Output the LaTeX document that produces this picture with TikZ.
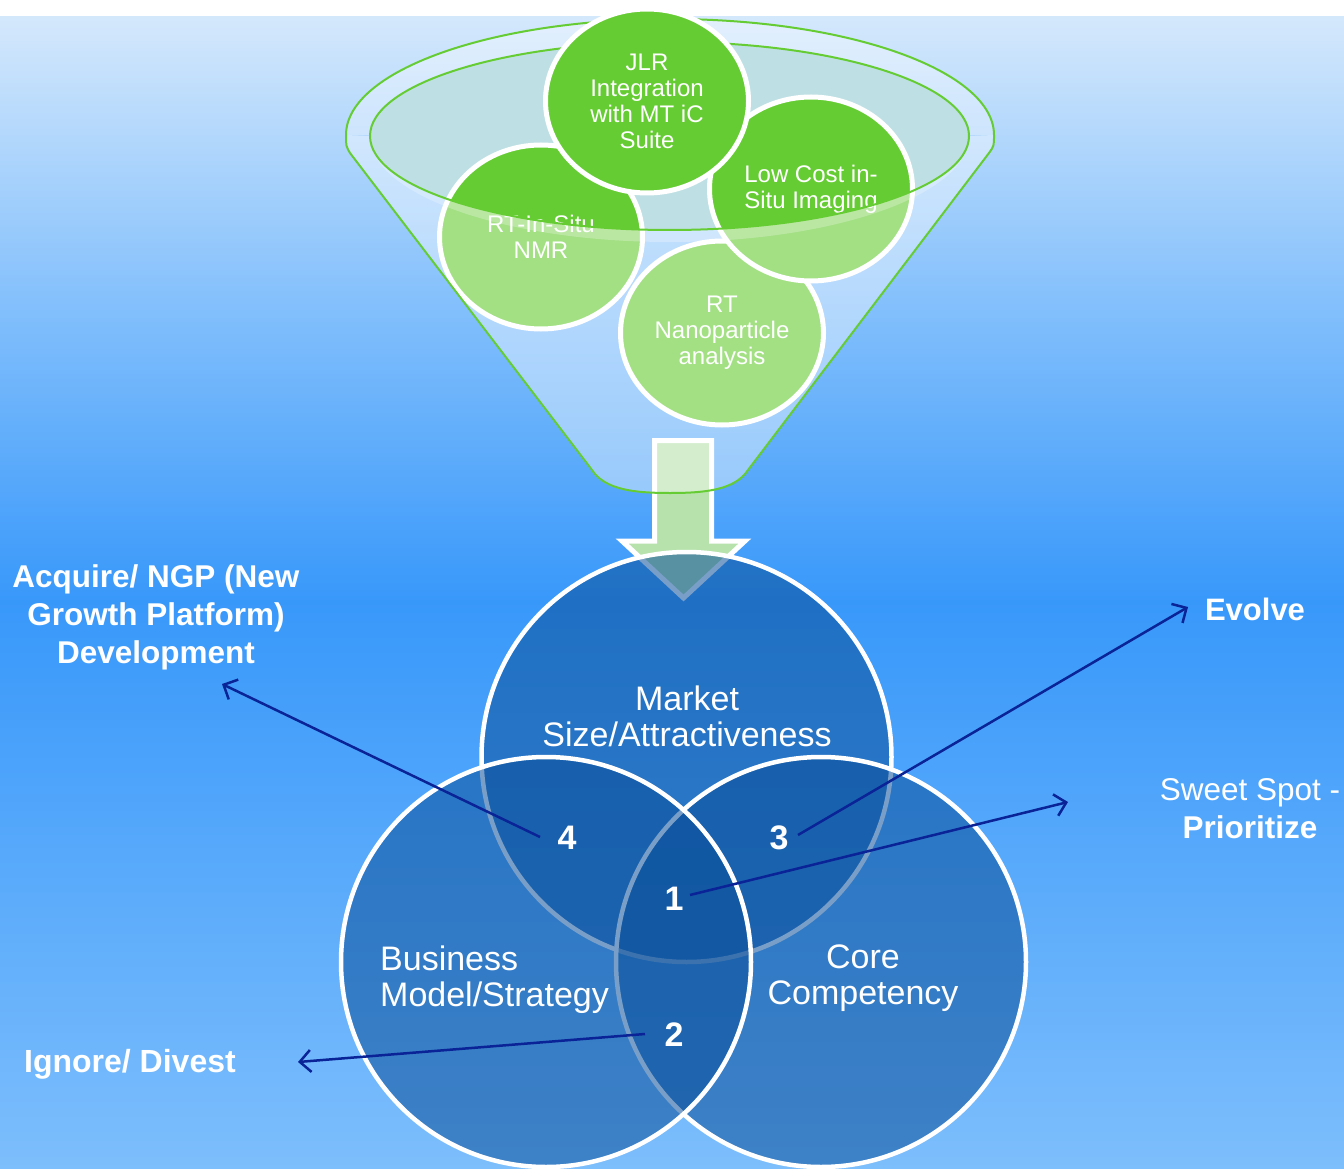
\documentclass[tikz,border=0pt]{standalone}
\usepackage{fontspec}
\setmainfont{Liberation Sans}
\usetikzlibrary{arrows.meta,shapes.geometric}

\definecolor{bgA}{RGB}{212,232,252}
\definecolor{bgB}{RGB}{132,192,252}
\definecolor{bgC}{RGB}{56,152,250}
\definecolor{bgD}{RGB}{125,190,252}
\definecolor{fgreen}{RGB}{102,204,51}
\definecolor{rimteal}{RGB}{190,224,228}
\definecolor{agreen}{RGB}{183,226,172}
\definecolor{vblue}{RGB}{11,80,155}
\definecolor{navy}{RGB}{10,35,150}

\begin{document}
\begin{tikzpicture}[x=1pt,y=-1pt,
  gline/.style={draw=fgreen, line width=2pt},
  gball/.style={ellipse, draw=white, line width=5pt, fill=fgreen,
    minimum width=203pt, minimum height=184pt, inner sep=0pt,
    text=white, align=center, font=\fontsize{24}{26}\selectfont},
  venn/.style={draw=white, line width=4.5pt, fill=vblue, fill opacity=0.55},
  vtext/.style={text=white, font=\fontsize{34}{36}\selectfont, inner sep=0pt},
  num/.style={text=white, font=\bfseries\fontsize{34}{36}\selectfont, inner sep=0pt},
  lbl/.style={text=white, font=\bfseries\fontsize{31.5}{38}\selectfont, align=center, inner sep=0pt},
  conn/.style={draw=navy, line width=2.5pt,
    -{Straight Barb[length=11pt,width=22pt,line width=2.5pt]}}
]
\useasboundingbox (0,0) rectangle (1344,1169);

% background
\fill[white] (0,0) rectangle (1344,18);
\shade[top color=bgA, bottom color=bgB] (0,17) rectangle (1344,301);
\shade[top color=bgB, bottom color=bgC] (0,300) rectangle (1344,601);
\shade[top color=bgC, bottom color=bgD] (0,600) rectangle (1344,1169);

% funnel: back rim and opening
\fill[white, fill opacity=0.35]
  (994,135) arc[start angle=0, end angle=-180, x radius=324, y radius=116] -- cycle;
\fill[rimteal] (669.5,136) ellipse[x radius=299.5, y radius=94];
\draw[gline] (994,135) arc[start angle=0, end angle=-180, x radius=324, y radius=116];
\draw[gline] (969,136) arc[start angle=0, end angle=-180, x radius=299.5, y radius=94];

% block arrow from the funnel down to the circles
\draw[white, line width=5pt, fill=agreen, line join=miter]
  (654.5,440.5) -- (711.5,440.5) -- (711.5,541) -- (745,541) -- (683.5,598)
  -- (622,541) -- (654.5,541) -- cycle;

% ideas inside the funnel
\node[gball] (nano) at (722,333) {RT\\Nanoparticle\\analysis};
\node[gball] (nmr)  at (541,237) {RT-In-Situ\\NMR};
\node[gball] (img)  at (811,189) {Low Cost in-\\Situ Imaging};
\node[gball] (jlr)  at (647,101) {JLR\\Integration\\with MT iC\\Suite};

% funnel: translucent front body
\fill[white, fill opacity=0.4]
  (370,136) arc[start angle=180, end angle=0, x radius=299.5, y radius=94]
  -- (994,135) .. controls (994,146) .. (989,153)
  -- (748,470) .. controls (735,490) and (705,493) .. (670,493)
  .. controls (635,493) and (605,490) .. (592,470)
  -- (350,153) .. controls (346,146) .. (346,135) -- cycle;
% pale front lip just under the opening
\fill[white, fill opacity=0.25]
  (370,136) arc[start angle=180, end angle=0, x radius=299.5, y radius=94]
  arc[start angle=0, end angle=180, x radius=299.5, y radius=106];
\draw[gline] (346,135) .. controls (346,146) .. (350,153) -- (592,470)
  .. controls (605,490) and (635,493) .. (670,493)
  .. controls (705,493) and (735,490) .. (748,470)
  -- (989,153) .. controls (994,146) .. (994,135);
\draw[gline] (370,136) arc[start angle=180, end angle=0, x radius=299.5, y radius=94];

% Venn diagram
\draw[venn] (686.5,757) circle[radius=205];
\draw[venn] (821,962) circle[radius=205];
\draw[venn] (546,962) circle[radius=205];

\node[vtext, align=center] (market) at (687,716) {Market\\Size/Attractiveness};
\node[vtext, align=left, anchor=west] (business) at (380,980) {Business\\Model/Strategy};
\node[vtext, align=center] (core) at (863,978) {Core\\Competency};

% outcome labels
\node[lbl] (acquire) at (156,617) {Acquire/ NGP (New\\Growth Platform)\\Development};
\node[lbl, font=\bfseries\fontsize{31}{38}\selectfont] (evolve) at (1255,609) {Evolve};
\node[lbl, font=\fontsize{31.5}{38}\selectfont] (sweet) at (1250,809) {Sweet Spot -\\\textbf{Prioritize}};
\node[lbl, font=\bfseries\fontsize{32}{38}\selectfont] (ignore) at (130,1064) {Ignore/ Divest};

% connectors from the overlap regions
\coordinate (s4) at (540,837);  \coordinate (e4) at (222,684);
\coordinate (s3) at (798,835);  \coordinate (e3) at (1188,607);
\coordinate (s1) at (690,895);  \coordinate (e1) at (1068,802);
\coordinate (s2) at (645,1034); \coordinate (e2) at (298,1062);
\draw[conn] (s4) -- (e4);
\draw[conn] (s3) -- (e3);
\draw[conn] (s1) -- (e1);
\draw[conn] (s2) -- (e2);

% region numbers
\node[num] (n4) at (567,838) {4};
\node[num] (n3) at (779,838) {3};
\node[num] (n1) at (674,899) {1};
\node[num] (n2) at (674,1035) {2};
\end{tikzpicture}
\end{document}
